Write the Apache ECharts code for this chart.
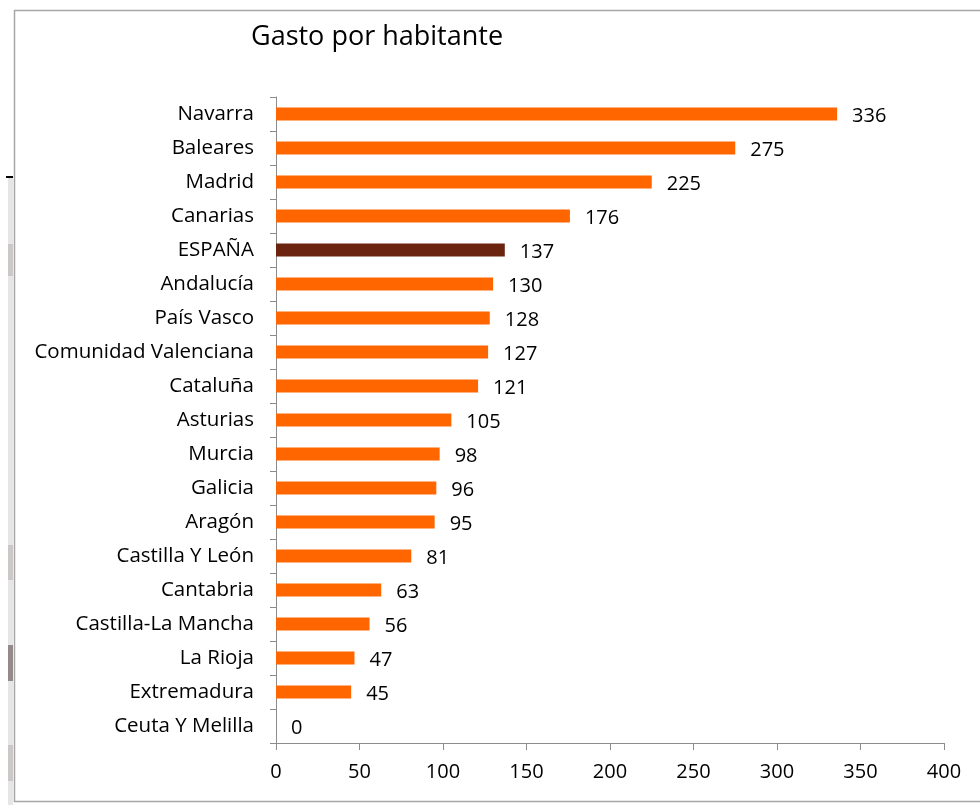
<!DOCTYPE html>
<html>
<head>
<meta charset="utf-8">
<title>Gasto por habitante</title>
<script src="https://cdn.jsdelivr.net/npm/echarts@6/dist/echarts.min.js"></script>
<style>
  html, body { margin: 0; padding: 0; background: #fff; }
  #chart { width: 980px; height: 805px; }
</style>
</head>
<body>
<div id="chart"></div>
<script>
// data
const regions = ['Navarra', 'Baleares', 'Madrid', 'Canarias', 'ESPAÑA', 'Andalucía', 'País Vasco',
  'Comunidad Valenciana', 'Cataluña', 'Asturias', 'Murcia', 'Galicia', 'Aragón', 'Castilla Y León',
  'Cantabria', 'Castilla-La Mancha', 'La Rioja', 'Extremadura', 'Ceuta Y Melilla']
const gasto = [336, 275, 225, 176, 137, 130, 128, 127, 121, 105, 98, 96, 95, 81, 63, 56, 47, 45, 0]
const highlight = 'ESPAÑA'

const font = '"Open Sans", "Noto Sans", sans-serif'
const axisGray = '#8c8c8c'

const chart = echarts.init(document.getElementById('chart'))

chart.setOption({
  animation: false,
  textStyle: { fontFamily: font },
  title: {
    text: 'Gasto por habitante',
    left: 246,
    top: 19,
    textStyle: { fontSize: 27, fontWeight: 'normal', color: '#000', fontFamily: font }
  },
  graphic: [
    // outer frame (right side runs off the picture)
    { type: 'rect', shape: { x: 14.5, y: 10.5, width: 1000, height: 791 },
      style: { fill: 'none', stroke: '#a6a6a6', lineWidth: 1.5 }, z: 10 },
    // bits of the page behind, on the left
    { type: 'rect', shape: { x: 8, y: 178, width: 5, height: 627 }, style: { fill: '#e6e6e6' } },
    { type: 'rect', shape: { x: 8, y: 244, width: 5, height: 32 }, style: { fill: '#cdc8c8' } },
    { type: 'rect', shape: { x: 8, y: 545, width: 5, height: 35 }, style: { fill: '#cdc8c8' } },
    { type: 'rect', shape: { x: 8, y: 645, width: 5, height: 36 }, style: { fill: '#958a8a' } },
    { type: 'rect', shape: { x: 8, y: 745, width: 5, height: 36 }, style: { fill: '#cdc8c8' } },
    { type: 'rect', shape: { x: 6, y: 176, width: 7, height: 2 }, style: { fill: '#000' } }
  ],
  grid: {
    left: 276,
    right: 36,
    top: 97,
    bottom: 62
  },
  xAxis: {
    type: 'value',
    min: 0,
    max: 400,
    interval: 50,
    splitLine: { show: false },
    axisLine: { show: true, lineStyle: { color: axisGray, width: 1 } },
    axisTick: { show: true, length: 7, lineStyle: { color: axisGray } },
    axisLabel: { color: '#000', fontSize: 20, margin: 19 }
  },
  yAxis: {
    type: 'category',
    data: regions,
    inverse: true,
    axisLine: { show: true, lineStyle: { color: axisGray, width: 1 } },
    axisTick: { show: true, length: 6, lineStyle: { color: axisGray } },
    axisLabel: { color: '#000', fontSize: 20.5, margin: 22 }
  },
  series: [{
    name: 'Gasto por habitante',
    type: 'bar',
    barWidth: 13,
    data: gasto.map((v, i) => ({
      value: v,
      itemStyle: { color: regions[i] === highlight ? '#6b2410' : '#ff6600' }
    })),
    label: {
      show: true,
      position: 'right',
      distance: 15,
      offset: [0, 2],
      color: '#000',
      fontSize: 20
    }
  }]
})
</script>
</body>
</html>
